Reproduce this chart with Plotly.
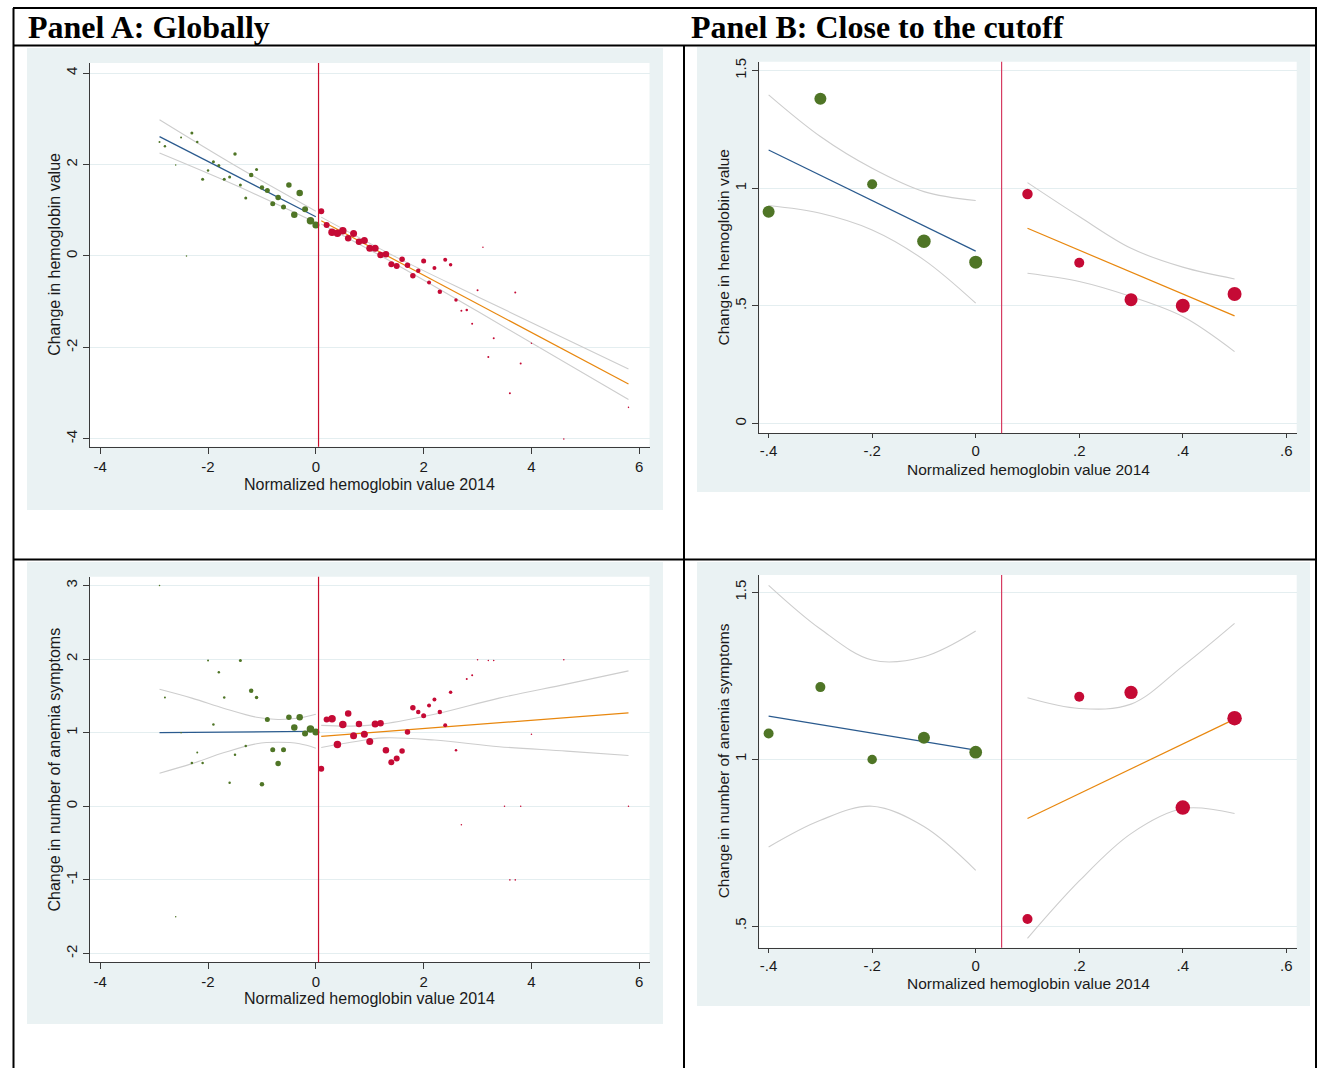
import plotly.graph_objects as go

W, H = 1324, 1068

# ------------------------------------------------------------------ data
CUTOFF = 0.05

# Panel A (global), top: change in hemoglobin value
A1_green_x = [-2.9, -2.8, -2.6, -2.5, -2.4, -2.3, -2.2, -2.1, -2.0, -1.9, -1.8, -1.7, -1.6, -1.5, -1.4,
              -1.3, -1.2, -1.1, -1.0, -0.9, -0.8, -0.7, -0.6, -0.5, -0.4, -0.3, -0.2, -0.1, 0.0]
A1_green_y = [2.49, 2.40, 1.99, 2.59, 0.00, 2.69, 2.49, 1.68, 1.87, 2.06, 1.98, 1.68, 1.73, 2.23, 1.55,
              1.27, 1.77, 1.89, 1.50, 1.43, 1.14, 1.28, 1.07, 1.55, 0.90, 1.38, 1.02, 0.77, 0.68]
A1_green_n = [31, 49, 18, 31, 18, 70, 49, 70, 49, 70, 70, 70, 70, 96, 70,
              70, 158, 70, 158, 195, 195, 236, 195, 236, 330, 330, 281, 439, 383]
A1_red_x = [0.1, 0.2, 0.3, 0.4, 0.5, 0.6, 0.7, 0.8, 0.9, 1.0, 1.1, 1.2, 1.3, 1.4, 1.5, 1.6, 1.7, 1.8, 1.9, 2.0,
            2.1, 2.2, 2.3, 2.4, 2.5, 2.6, 2.7, 2.8, 2.9, 3.0, 3.1, 3.2, 3.3, 3.6, 3.7, 3.8, 4.0, 4.6, 5.8]
A1_red_y = [0.98, 0.68, 0.52, 0.50, 0.55, 0.39, 0.49, 0.31, 0.34, 0.17, 0.17, 0.02, 0.04, -0.18, -0.22,
            -0.07, -0.20, -0.43, -0.32, -0.11, -0.58, -0.26, -0.78, -0.08, -0.19, -0.96, -1.20, -1.18,
            -1.48, -0.75, 0.19, -2.21, -1.80, -3.00, -0.80, -2.35, -1.91, -4.00, -3.31]
A1_red_n = [281, 281, 439, 439, 439, 330, 383, 330, 383, 383, 383, 330, 330, 281, 281, 236, 236, 236, 158, 195,
            125, 125, 158, 125, 96, 96, 31, 49, 31, 31, 18, 31, 31, 31, 31, 31, 18, 18, 18]
A1_fitL_x = [-2.9, 0.0]
A1_fitL_y = [2.61, 0.86]
A1_ciL_x = [-2.9, -1.5, 0.0]
A1_ciL_hi = [2.98, 1.98, 0.98]
A1_ciL_lo = [2.25, 1.55, 0.73]
A1_fitR_x = [0.1, 5.8]
A1_fitR_y = [0.77, -2.80]
A1_ciR_x = [0.1, 1.5, 3.0, 5.8]
A1_ciR_hi = [0.85, -0.03, -0.89, -2.47]
A1_ciR_lo = [0.70, -0.19, -1.21, -3.14]

# Panel A (global), bottom: change in number of anemia symptoms
A2_green_x = [-2.9, -2.8, -2.6, -2.5, -2.3, -2.2, -2.1, -2.0, -1.9, -1.8, -1.7, -1.6, -1.5, -1.4,
              -1.3, -1.2, -1.1, -1.0, -0.9, -0.8, -0.7, -0.6, -0.5, -0.4, -0.3, -0.2, -0.1, 0.0]
A2_green_y = [3.00, 1.48, -1.50, 1.00, 0.59, 0.73, 0.59, 1.98, 1.11, 1.82, 1.48, 0.32, 0.70, 1.98,
              0.82, 1.57, 1.48, 0.30, 1.18, 0.77, 0.58, 0.77, 1.21, 1.07, 1.21, 0.99, 1.05, 1.01]
A2_green_n = [18, 31, 18, 18, 49, 31, 49, 31, 49, 49, 49, 49, 49, 70,
              49, 158, 96, 158, 195, 195, 236, 195, 236, 330, 330, 281, 439, 383]
A2_red_x = [0.1, 0.2, 0.3, 0.4, 0.5, 0.6, 0.7, 0.8, 0.9, 1.0, 1.1, 1.2, 1.3, 1.4, 1.5, 1.6, 1.7, 1.8, 1.9, 2.0,
            2.1, 2.2, 2.3, 2.4, 2.5, 2.6, 2.7, 2.8, 2.9, 3.0, 3.2, 3.3, 3.5, 3.6, 3.7, 3.8, 4.0, 4.6, 5.8]
A2_red_y = [0.51, 1.18, 1.19, 0.84, 1.11, 1.26, 0.96, 1.12, 0.98, 0.88, 1.12, 1.13, 0.76, 0.60, 0.65,
            0.75, 1.01, 1.34, 1.28, 1.23, 1.37, 1.45, 1.28, 1.10, 1.55, 0.76, -0.25, 1.73, 1.78,
            1.99, 1.98, 1.98, 0.00, -1.00, -1.00, 0.00, 0.98, 1.99, 0.00]
A2_red_n = [281, 281, 439, 439, 439, 330, 383, 330, 383, 383, 383, 330, 330, 281, 281, 236, 236, 236, 158, 195,
            125, 125, 158, 125, 96, 49, 18, 31, 31, 18, 18, 18, 18, 18, 18, 18, 18, 18, 18]
A2_fitL_x = [-2.9, 0.0]
A2_fitL_y = [1.00, 1.02]
A2_ciL_x = [-2.9, -2.3, -1.7, -1.1, -0.7, -0.3, 0.0]
A2_ciL_hi = [1.59, 1.47, 1.33, 1.21, 1.18, 1.20, 1.25]
A2_ciL_lo = [0.45, 0.58, 0.73, 0.85, 0.87, 0.85, 0.79]
A2_fitR_x = [0.1, 5.8]
A2_fitR_y = [0.95, 1.27]
A2_ciR_x = [0.1, 0.65, 1.25, 2.2, 3.4, 4.65, 5.8]
A2_ciR_hi = [1.10, 1.09, 1.12, 1.25, 1.47, 1.66, 1.84]
A2_ciR_lo = [0.80, 0.87, 0.93, 0.90, 0.81, 0.75, 0.69]

# Panel B (close to the cutoff)
B_green_x = [-0.4, -0.3, -0.2, -0.1, 0.0]
B_red_x = [0.1, 0.2, 0.3, 0.4, 0.5]

B1_green_y = [0.900, 1.381, 1.017, 0.775, 0.686]
B1_green_n = [342, 342, 238, 433, 402]
B1_red_y = [0.976, 0.684, 0.527, 0.501, 0.551]
B1_red_n = [260, 238, 402, 466, 466]
B1_fitL_x = [-0.4, 0.0]
B1_fitL_y = [1.163, 0.733]
B1_ciL_hi = [1.397, 1.220, 1.085, 0.986, 0.948]
B1_ciL_lo = [0.927, 0.894, 0.823, 0.696, 0.512]
B1_fitR_x = [0.1, 0.5]
B1_fitR_y = [0.830, 0.458]
B1_ciR_hi = [1.024, 0.880, 0.745, 0.665, 0.615]
B1_ciR_lo = [0.639, 0.604, 0.540, 0.455, 0.306]

B2_green_y = [1.077, 1.216, 0.999, 1.064, 1.021]
B2_green_n = [238, 238, 215, 342, 384]
B2_red_y = [0.521, 1.187, 1.200, 0.855, 1.123]
B2_red_n = [238, 238, 420, 500, 500]
B2_fitL_x = [-0.4, 0.0]
B2_fitL_y = [1.129, 1.027]
B2_ciL_hi = [1.521, 1.390, 1.297, 1.307, 1.384]
B2_ciL_lo = [0.737, 0.817, 0.859, 0.798, 0.667]
B2_fitR_x = [0.1, 0.5]
B2_fitR_y = [0.822, 1.120]
B2_ciR_hi = [1.184, 1.152, 1.165, 1.279, 1.407]
B2_ciR_lo = [0.463, 0.635, 0.777, 0.852, 0.837]

A_xticks = [-4, -2, 0, 2, 4, 6]
A_xtext = ["-4", "-2", "0", "2", "4", "6"]
A1_yticks = [-4, -2, 0, 2, 4]
A1_ytext = ["-4", "-2", "0", "2", "4"]
A2_yticks = [-2, -1, 0, 1, 2, 3]
A2_ytext = ["-2", "-1", "0", "1", "2", "3"]
B_xticks = [-0.4, -0.2, 0, 0.2, 0.4, 0.6]
B_xtext = ["-.4", "-.2", "0", ".2", ".4", ".6"]
B1_yticks = [0, 0.5, 1, 1.5]
B1_ytext = ["0", ".5", "1", "1.5"]
B2_yticks = [0.5, 1, 1.5]
B2_ytext = [".5", "1", "1.5"]

TITLE_A = "Panel A: Globally"
TITLE_B = "Panel B: Close to the cutoff"
XLABEL = "Normalized hemoglobin value 2014"
YLABEL_1 = "Change in hemoglobin value"
YLABEL_2 = "Change in number of anemia symptoms"

# ------------------------------------------------------------------ styles
GREEN = "#4F7526"
RED = "#C50A35"
BLUE = "#2A5A8E"
ORANGE = "#E8870E"
CI = "#CDCDCD"
BG = "#EAF2F3"
GRID = "#E4EEF0"
AXIS = "#3A3A3A"
FONT = "Arial, Liberation Sans, sans-serif"
TXT = "#1a1a1a"

def px_x(p):
    return p / W

def px_y(p):
    return 1 - p / H

# plot-area rectangles in pixels: (left, right, top, bottom)
PLOT = {
    "A1": (90, 649.5, 63, 446.7),
    "B1": (759.3, 1296.7, 61.7, 433.3),
    "A2": (90, 649.5, 576.7, 962.3),
    "B2": (759.3, 1296.7, 575, 947.7),
}
BGBOX = {
    "A1": (27, 663, 48, 510),
    "B1": (697, 1310, 47, 492),
    "A2": (27, 663, 562, 1024),
    "B2": (697, 1310, 562, 1006),
}
# axis title positions (x-title centre y, y-title centre x, font size, x tick length, cutoff colour)
TITLEPOS = {
    "A1": (484, 55, 16.0, 6, "#C8102E"),
    "B1": (469, 723, 15.5, 4, "#D63C62"),
    "A2": (998, 54, 16.0, 6, "#C8102E"),
    "B2": (983, 723, 15.5, 4, "#D63C62"),
}
AXES = {"A1": ("x", "y"), "B1": ("x2", "y2"), "A2": ("x3", "y3"), "B2": ("x4", "y4")}

fig = go.Figure()


def sizes(n, dmax):
    return [dmax * (v / 500.0) ** 0.5 for v in n]


def add_panel(key, gx, gy, gn, rx, ry, rn, dmax, fitL, ciL, fitR, ciR):
    xa, ya = AXES[key]
    common = dict(xaxis=xa, yaxis=ya, showlegend=False, hoverinfo="skip")
    for cx, chi, clo in (ciL, ciR):
        for cy in (chi, clo):
            fig.add_trace(go.Scatter(x=cx, y=cy, mode="lines",
                                     line=dict(color=CI, width=1.1, shape="spline"), **common))
    fig.add_trace(go.Scatter(x=fitL[0], y=fitL[1], mode="lines",
                             line=dict(color=BLUE, width=1.2), **common))
    fig.add_trace(go.Scatter(x=fitR[0], y=fitR[1], mode="lines",
                             line=dict(color=ORANGE, width=1.2), **common))
    fig.add_trace(go.Scatter(x=gx, y=gy, mode="markers",
                             marker=dict(color=GREEN, size=sizes(gn, dmax), opacity=1,
                                         line=dict(width=0)), **common))
    fig.add_trace(go.Scatter(x=rx, y=ry, mode="markers",
                             marker=dict(color=RED, size=sizes(rn, dmax), opacity=1,
                                         line=dict(width=0)), **common))


add_panel("A1", A1_green_x, A1_green_y, A1_green_n, A1_red_x, A1_red_y, A1_red_n, 8.0,
          (A1_fitL_x, A1_fitL_y), (A1_ciL_x, A1_ciL_hi, A1_ciL_lo),
          (A1_fitR_x, A1_fitR_y), (A1_ciR_x, A1_ciR_hi, A1_ciR_lo))
add_panel("A2", A2_green_x, A2_green_y, A2_green_n, A2_red_x, A2_red_y, A2_red_n, 8.0,
          (A2_fitL_x, A2_fitL_y), (A2_ciL_x, A2_ciL_hi, A2_ciL_lo),
          (A2_fitR_x, A2_fitR_y), (A2_ciR_x, A2_ciR_hi, A2_ciR_lo))
add_panel("B1", B_green_x, B1_green_y, B1_green_n, B_red_x, B1_red_y, B1_red_n, 14.5,
          (B1_fitL_x, B1_fitL_y), (B_green_x, B1_ciL_hi, B1_ciL_lo),
          (B1_fitR_x, B1_fitR_y), (B_red_x, B1_ciR_hi, B1_ciR_lo))
add_panel("B2", B_green_x, B2_green_y, B2_green_n, B_red_x, B2_red_y, B2_red_n, 14.5,
          (B2_fitL_x, B2_fitL_y), (B_green_x, B2_ciL_hi, B2_ciL_lo),
          (B2_fitR_x, B2_fitR_y), (B_red_x, B2_ciR_hi, B2_ciR_lo))

AXCFG = {
    "A1": dict(xr=[-4.19, 6.19], yr=[-4.17, 4.22], xt=(A_xticks, A_xtext), yt=(A1_yticks, A1_ytext), yl=YLABEL_1),
    "A2": dict(xr=[-4.19, 6.19], yr=[-2.12, 3.12], xt=(A_xticks, A_xtext), yt=(A2_yticks, A2_ytext), yl=YLABEL_2),
    "B1": dict(xr=[-0.418, 0.620], yr=[-0.041, 1.538], xt=(B_xticks, B_xtext), yt=(B1_yticks, B1_ytext), yl=YLABEL_1),
    "B2": dict(xr=[-0.418, 0.620], yr=[0.435, 1.552], xt=(B_xticks, B_xtext), yt=(B2_yticks, B2_ytext), yl=YLABEL_2),
}

layout_axes = {}
shapes = []
annotations = []
for key, (xa, ya) in AXES.items():
    l, r, t, b = PLOT[key]
    cfg = AXCFG[key]
    xt_y, yt_x, tsize, xtlen, cutcol = TITLEPOS[key]
    xname = "xaxis" + xa[1:]
    yname = "yaxis" + ya[1:]
    tickfont = dict(family=FONT, size=15, color=TXT)
    layout_axes[xname] = dict(
        domain=[px_x(l), px_x(r)], range=cfg["xr"], anchor=ya,
        tickvals=cfg["xt"][0], ticktext=cfg["xt"][1],
        showline=True, linecolor=AXIS, linewidth=1.2, ticks="outside", ticklen=xtlen,
        tickcolor=AXIS, tickwidth=1, showgrid=False, zeroline=False, automargin=False,
        tickfont=tickfont,
    )
    layout_axes[yname] = dict(
        domain=[px_y(b), px_y(t)], range=cfg["yr"], anchor=xa,
        tickvals=cfg["yt"][0], ticktext=cfg["yt"][1], tickangle=-90,
        showline=True, linecolor=AXIS, linewidth=1.2, ticks="outside", ticklen=6,
        tickcolor=AXIS, tickwidth=1, showgrid=True, gridcolor=GRID, gridwidth=1,
        zeroline=False, automargin=False, tickfont=tickfont,
    )
    annotations.append(dict(text=XLABEL, xref="paper", yref="paper",
                            x=px_x((l + r) / 2), y=px_y(xt_y), xanchor="center", yanchor="middle",
                            showarrow=False, font=dict(family=FONT, size=tsize, color=TXT)))
    annotations.append(dict(text=cfg["yl"], xref="paper", yref="paper", textangle=-90,
                            x=px_x(yt_x), y=px_y((t + b) / 2), xanchor="center", yanchor="middle",
                            showarrow=False, font=dict(family=FONT, size=tsize, color=TXT)))
    bl, br, bt, bb = BGBOX[key]
    shapes.append(dict(type="rect", xref="paper", yref="paper", layer="below",
                       x0=px_x(bl), x1=px_x(br), y0=px_y(bb), y1=px_y(bt),
                       fillcolor=BG, line=dict(width=0)))
    shapes.append(dict(type="rect", xref="paper", yref="paper", layer="below",
                       x0=px_x(l), x1=px_x(r), y0=px_y(b), y1=px_y(t),
                       fillcolor="white", line=dict(width=0)))
    shapes.append(dict(type="line", xref=xa, yref=ya + " domain", x0=CUTOFF, x1=CUTOFF, y0=0, y1=1,
                       line=dict(color=cutcol, width=1.2), layer="above"))

# table borders
BORDER = dict(color="black", width=2)
for (x0, y0, x1, y1) in [
    (13, 8, 1317, 8),
    (13, 45.5, 1317, 45.5),
    (13, 559.5, 1317, 559.5),
    (13.5, 8, 13.5, 1068),
    (1316, 8, 1316, 1068),
    (684, 45.5, 684, 1068),
]:
    shapes.append(dict(type="line", xref="paper", yref="paper", layer="above",
                       x0=px_x(x0), x1=px_x(x1), y0=px_y(y0), y1=px_y(y1), line=BORDER))

annotations += [
    dict(text="<b>" + TITLE_A + "</b>", xref="paper", yref="paper", x=px_x(26), y=px_y(27),
         xanchor="left", yanchor="middle", showarrow=False,
         font=dict(family="Liberation Serif, Times New Roman, serif", size=32, color="black")),
    dict(text="<b>" + TITLE_B + "</b>", xref="paper", yref="paper", x=px_x(689), y=px_y(27),
         xanchor="left", yanchor="middle", showarrow=False,
         font=dict(family="Liberation Serif, Times New Roman, serif", size=32, color="black")),
]

fig.update_layout(
    width=W, height=H, margin=dict(l=0, r=0, t=0, b=0),
    paper_bgcolor="white", plot_bgcolor="rgba(0,0,0,0)",
    shapes=shapes, annotations=annotations, showlegend=False,
    **layout_axes,
)

fig.write_html("out.html")
